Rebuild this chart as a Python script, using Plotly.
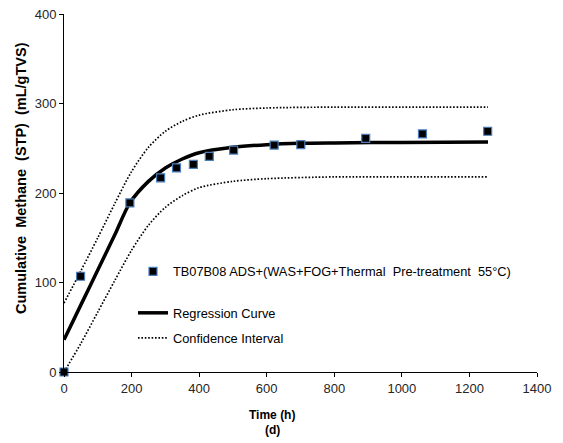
import plotly.graph_objects as go

# Measured data (time in h, cumulative methane in mL/gTVS)
time_obs = [0, 49, 195, 286, 333, 383, 430, 502, 622, 701, 893, 1061, 1254]
methane_obs = [0, 107, 189, 217, 228, 232, 241, 248, 253.5, 254, 261, 266, 269]

# Regression curve
time_fit = [0, 50, 100, 150, 195, 250, 300, 350, 400, 500, 600, 700, 800, 1000, 1255]
regression = [36, 75, 114, 153, 189, 213, 228, 238, 245, 251, 254, 255.5, 256, 256.5, 257]

# Confidence interval lines
time_ci = [0, 50, 100, 150, 200, 250, 300, 350, 400, 500, 600, 800, 1000, 1255]
upper_ci = [77, 113, 150, 188, 224, 251, 269, 280, 287, 293, 295, 296, 296, 296]
lower_ci = [0, 32, 67, 102, 136, 164, 184, 197, 206, 213, 216, 218, 218, 218]

x_ticks = [0, 200, 400, 600, 800, 1000, 1200, 1400]
y_ticks = [0, 100, 200, 300, 400]

series_name = "TB07B08 ADS+(WAS+FOG+Thermal\u00a0 Pre-treatment\u00a0 55°C)"
y_title = "Cumulative\u00a0 Methane\u00a0 (STP)\u00a0 (mL/gTVS)"

FONT = "Liberation Sans, Arial, sans-serif"
DOT = "1.6px,1.8px"

fig = go.Figure()

fig.add_trace(go.Scatter(
    x=time_ci, y=upper_ci, mode="lines", name="Confidence Interval",
    line=dict(color="black", width=1.7, dash=DOT, shape="spline", smoothing=0.8),
    legend="legend3", showlegend=True))
fig.add_trace(go.Scatter(
    x=time_ci, y=lower_ci, mode="lines", name="Confidence Interval",
    line=dict(color="black", width=1.7, dash=DOT, shape="spline", smoothing=0.8),
    legend="legend3", showlegend=False))
fig.add_trace(go.Scatter(
    x=time_fit, y=regression, mode="lines", name="Regression Curve",
    line=dict(color="black", width=3.5, shape="spline", smoothing=0.8),
    legend="legend2", showlegend=True))
fig.add_trace(go.Scatter(
    x=time_obs, y=methane_obs, mode="markers", name=series_name,
    marker=dict(symbol="square", size=8, color="black",
                line=dict(color="#4A7EBB", width=1.2)),
    cliponaxis=False, legend="legend", showlegend=True))

# page body has an 8px default margin; work in window pixels
OFF = 8
W, H = 563, 443
x0, x1 = 64, 537      # window px of x=0 and x=1400
y0, y1 = 372, 14      # window px of y=0 and y=400
FW, FH = W - OFF, H - OFF

def px(xp):
    return (xp - x0) / (x1 - x0)

def py(yp):
    return (y0 - yp) / (y0 - y1)

leg_common = dict(xanchor="left", yanchor="middle", bgcolor="rgba(0,0,0,0)",
                  font=dict(family=FONT, size=12.8, color="black"),
                  borderwidth=0, itemwidth=30, visible=True)

axis_common = dict(showgrid=False, zeroline=False, showline=True, linecolor="black",
                   linewidth=1, ticks="outside", ticklen=4, tickcolor="black",
                   ticklabeloverflow="allow",
                   tickfont=dict(family=FONT, size=13, color="#262626"))

fig.update_layout(
    width=FW, height=FH,
    showlegend=True,
    margin=dict(l=x0 - OFF, r=FW - (x1 - OFF), t=y1 - OFF, b=FH - (y0 - OFF),
                autoexpand=False),
    paper_bgcolor="white", plot_bgcolor="white",
    font=dict(family=FONT, size=13, color="#262626"),
    legend=dict(x=px(133), y=py(271.5), **leg_common),
    legend2=dict(x=px(133), y=py(313), **leg_common),
    legend3=dict(x=px(133), y=py(338), **leg_common),
    xaxis=dict(range=[0, 1400], tickvals=x_ticks, ticktext=[str(v) for v in x_ticks],
               **axis_common),
    yaxis=dict(range=[0, 400], tickvals=y_ticks, ticktext=[str(v) for v in y_ticks],
               **axis_common),
    annotations=[
        dict(text="<b>Time (h)</b>", xref="paper", yref="paper",
             x=px(272), y=py(415), xanchor="center", yanchor="middle", showarrow=False,
             font=dict(family=FONT, size=12, color="black")),
        dict(text="<b>(d)</b>", xref="paper", yref="paper",
             x=px(272), y=py(430), xanchor="center", yanchor="middle", showarrow=False,
             font=dict(family=FONT, size=12, color="black")),
        dict(text="<b>" + y_title + "</b>", xref="paper", yref="paper",
             x=px(21), y=py(178), xanchor="center", yanchor="middle", showarrow=False,
             textangle=-90, font=dict(family=FONT, size=14.5, color="black")),
    ],
)

fig.write_html("out.html")
